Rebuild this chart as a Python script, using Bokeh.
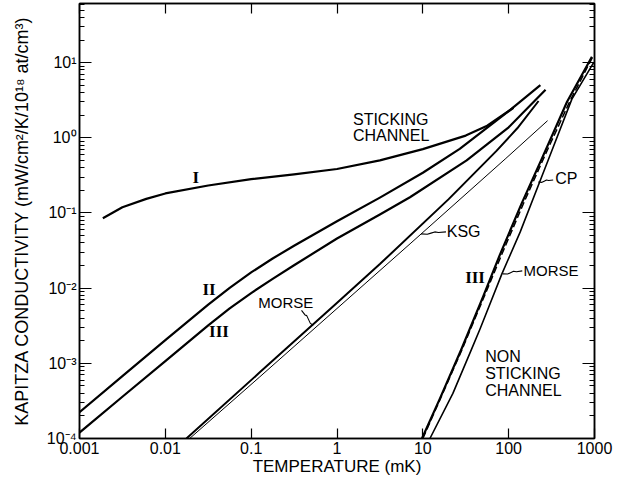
import math
from bokeh.plotting import figure
from bokeh.models import Range1d, FixedTicker, LogAxis, CustomJSTickFormatter, Label
from bokeh.embed import file_html
from bokeh.resources import INLINE

# ---------------- data (temperature in mK, conductivity) ----------------
curve_I_T = [0.00187, 0.00316, 0.0060, 0.01, 0.0316, 0.1, 0.316, 1.0, 3.16, 10.0, 31.6, 56.2, 114]
curve_I_K = [0.0853, 0.119, 0.154, 0.182, 0.232, 0.282, 0.327, 0.385, 0.501, 0.708, 1.07, 1.45, 2.51]

curve_II_T = [0.001, 0.00316, 0.01, 0.0316, 0.0562, 0.1, 0.178, 0.316, 1.0, 3.16, 10.0, 26.9, 100, 234]
curve_II_K = [2.24e-4, 6.76e-4, 2.04e-3, 6.03e-3, 0.0101, 0.0162, 0.0248, 0.0367, 0.0776, 0.160, 0.343, 0.713, 2.26, 5.01]

curve_III_T = [0.001, 0.00316, 0.01, 0.0316, 0.0562, 0.1, 0.178, 0.316, 1.0, 3.16, 7.08, 32.4, 100, 269]
curve_III_K = [1.20e-4, 3.59e-4, 1.07e-3, 3.20e-3, 5.37e-3, 8.61e-3, 0.0133, 0.0202, 0.0457, 0.0955, 0.162, 0.501, 1.38, 4.37]

morse_s_T = [0.0176, 0.126, 0.989, 3.16, 20.0, 72.6, 126, 223]
morse_s_K = [1.0e-4, 7.59e-4, 6.31e-3, 0.0209, 0.153, 0.675, 1.34, 3.09]

ksg_T = [0.0192, 0.126, 7.10, 91.0, 284]
ksg_K = [1.0e-4, 6.61e-4, 0.0389, 0.522, 1.69]

iii_ns_T = [9.77, 15.8, 28.2, 50.1, 79.4, 141, 245, 479, 933]
iii_ns_K = [1.0e-4, 3.39e-4, 1.55e-3, 7.59e-3, 0.0282, 0.132, 0.537, 3.02, 12.0]

cp_T = [10.0, 28.8, 83.2, 148, 263, 513, 955]
cp_K = [1.0e-4, 1.55e-3, 0.0282, 0.132, 0.575, 3.02, 12.0]

morse_ns_T = [12.1, 22.4, 37.2, 46.5, 83.4, 136, 292, 545, 977]
morse_ns_K = [1.0e-4, 3.98e-4, 1.57e-3, 2.89e-3, 0.0155, 0.0556, 0.522, 3.27, 10.0]

x_ticks = [0.001, 0.01, 0.1, 1, 10, 100, 1000]
y_ticks = [1e-4, 1e-3, 1e-2, 1e-1, 1e0, 1e1]

FONT = "Liberation Sans"

p = figure(width=613, height=478, x_axis_type="log", y_axis_type="log",
           x_range=Range1d(1e-3, 1e3), y_range=Range1d(1e-4, 10 ** 1.787),
           output_backend="svg", toolbar_location=None,
           min_border_left=79, min_border_right=19, min_border_top=3, min_border_bottom=40)
p.grid.visible = False
p.outline_line_color = "black"
p.outline_line_width = 1.5
p.background_fill_color = "white"
p.border_fill_color = "white"

y_minor = [m * 10 ** k for k in range(-4, 2) for m in range(2, 10) if m * 10 ** k < 61]
xt = FixedTicker(ticks=x_ticks, minor_ticks=[])
yt = FixedTicker(ticks=y_ticks, minor_ticks=y_minor)

xfmt = CustomJSTickFormatter(code="""
const e = Math.round(Math.log10(tick));
return e < 0 ? tick.toFixed(-e) : String(Math.round(tick));
""")
yfmt = CustomJSTickFormatter(code="""
const e = Math.round(Math.log10(tick));
const sup = {'-':'\u207b','0':'\u2070','1':'\u00b9','2':'\u00b2','3':'\u00b3','4':'\u2074','5':'\u2075','6':'\u2076','7':'\u2077','8':'\u2078','9':'\u2079'};
return '10' + String(e).split('').map(c => sup[c]).join('');
""")
empty = CustomJSTickFormatter(code="return '';")

xa = p.xaxis[0]
xa.ticker = xt
xa.formatter = xfmt
xa.axis_label = "TEMPERATURE (mK)"
ya = p.yaxis[0]
ya.ticker = yt
ya.formatter = yfmt
ya.axis_label = "KAPITZA CONDUCTIVITY (mW/cm\u00b2/K/10\u00b9\u2078 at/cm\u00b3)"

for ax in (xa, ya):
    ax.axis_line_width = 1.5
    ax.axis_line_color = "black"
    ax.major_tick_out = 0
    ax.minor_tick_out = 0
    ax.major_tick_line_width = 1.2
    ax.minor_tick_line_width = 1
    ax.major_label_text_font = FONT
    ax.major_label_text_font_size = "16px"
    ax.major_label_text_color = "black"
    ax.axis_label_text_font = FONT
    ax.axis_label_text_font_style = "normal"
    ax.axis_label_text_color = "black"

xa.axis_label_text_font_size = "17px"
ya.axis_label_text_font_size = "18px"
xa.major_tick_in = 10
xa.major_label_standoff = 3
xa.axis_label_standoff = 0
ya.major_tick_in = 12
ya.minor_tick_in = 5
ya.major_label_standoff = 3
ya.axis_label_standoff = 12

top = LogAxis(ticker=FixedTicker(ticks=x_ticks, minor_ticks=[]), formatter=empty,
              major_tick_in=10, major_tick_out=0, minor_tick_out=0, minor_tick_in=0,
              major_label_standoff=0, major_label_text_font_size="0px",
              axis_line_width=1.5, major_tick_line_width=1.2)
right = LogAxis(ticker=FixedTicker(ticks=y_ticks, minor_ticks=y_minor), formatter=empty,
                major_tick_in=12, major_tick_out=0, minor_tick_in=5, minor_tick_out=0,
                major_label_standoff=0, major_label_text_font_size="0px",
                axis_line_width=1.5, major_tick_line_width=1.2)
p.add_layout(top, "above")
p.add_layout(right, "right")

# ---------------- curves ----------------
W = 2.2
p.line(curve_I_T, curve_I_K, line_color="black", line_width=W, line_join="round")
p.line(curve_II_T, curve_II_K, line_color="black", line_width=W, line_join="round")
p.line(curve_III_T, curve_III_K, line_color="black", line_width=W, line_join="round")
p.line(morse_s_T, morse_s_K, line_color="black", line_width=2.0, line_join="round")
p.line(ksg_T, ksg_K, line_color="black", line_width=1.0)
p.line(iii_ns_T, iii_ns_K, line_color="black", line_width=W, line_join="round")
p.line(cp_T, cp_K, line_color="black", line_width=1.5, line_dash="7 3")
p.line(morse_ns_T, morse_ns_K, line_color="black", line_width=1.6, line_join="round")


def wiggle(x0, y0, x1, y1, amp=0.012):
    lx0, ly0, lx1, ly1 = map(math.log10, (x0, y0, x1, y1))
    ts = [0, 0.3, 0.45, 0.6, 0.75, 1]
    offs = [0, 0, amp, 0, -amp, 0]
    xs = [10 ** (lx0 + t * (lx1 - lx0)) for t in ts]
    ys = [10 ** (ly0 + t * (ly1 - ly0) + o) for t, o in zip(ts, offs)]
    p.line(xs, ys, line_color="black", line_width=1.1)


wiggle(0.386, 5.06e-3, 0.527, 3.20e-3, amp=0.02)   # MORSE (left)
wiggle(18.6, 0.056, 9.53, 0.0527)                  # KSG
wiggle(330, 0.275, 221, 0.259)                     # CP
wiggle(144, 0.017, 85.5, 0.0155)                   # MORSE (right)


def label(x, y, text, align="left", font=FONT, size="15px", style="normal"):
    p.add_layout(Label(x=x, y=y, text=text, text_font=font, text_font_size=size,
                       text_font_style=style, text_align=align, text_baseline="middle",
                       text_color="black"))


label(0.0226, 0.301, "I", align="center", font="Liberation Serif", size="17px", style="bold")
label(0.0323, 0.00962, "II", align="center", font="Liberation Serif", size="17px", style="bold")
label(0.0422, 0.00266, "III", align="center", font="Liberation Serif", size="17px", style="bold")
label(40.6, 0.0140, "III", align="center", font="Liberation Serif", size="17px", style="bold")
label(0.2535, 0.0064, "MORSE", align="center")
label(1.535, 1.74, "STICKING", size="16px")
label(1.535, 1.07, "CHANNEL", size="16px")
label(19.0, 0.0566, "KSG", size="16px")
label(349, 0.290, "CP", size="16px")
label(149, 0.0172, "MORSE")
label(53.2, 1.22e-3, "NON", size="16px")
label(53.2, 7.30e-4, "STICKING", size="16px")
label(53.2, 4.38e-4, "CHANNEL", size="16px")

open("out.html", "w").write(file_html(p, INLINE))
